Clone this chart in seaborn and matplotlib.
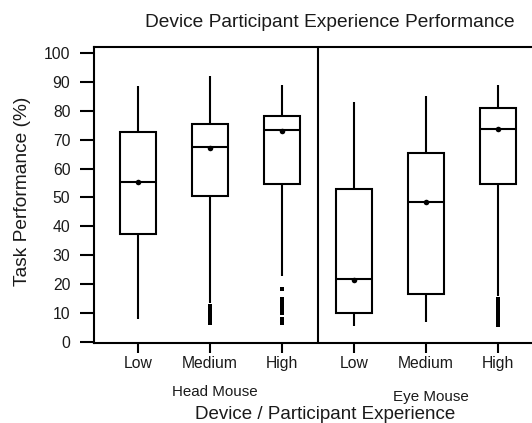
import matplotlib
matplotlib.use("Agg")
import matplotlib.pyplot as plt
import seaborn as sns
import pandas as pd

# ---- data ----
devices = ["Head Mouse", "Eye Mouse"]
experience = ["Low", "Medium", "High"]
whisker_low = [8, 13.5, 23, 5.5, 7, 16]
q1 = [37.5, 50.5, 54.5, 10, 16.5, 54.5]
median = [55.5, 67.5, 73.2, 21.8, 48.5, 73.5]
q3 = [72.5, 75.5, 78, 53, 65.5, 80.8]
whisker_high = [88.5, 92, 89, 83, 85, 89]
means = [55.5, 67.2, 73, 21.5, 48.5, 73.5]
outliers_hm_medium = [12.5, 12, 11.5, 11, 10.5, 10, 9.5, 9, 8.5, 8, 7.5, 7, 6.5]
outliers_hm_high = [18.5, 15, 14, 13, 12, 11.5, 11, 10, 8, 7, 6.5]
outliers_em_high = [15, 14.5, 14, 13, 12, 11, 10, 9, 8, 7, 6.5, 6]
title = "Device Participant Experience Performance"
xlabel = "Device / Participant Experience"
ylabel = "Task Performance (%)"
yticks = [0, 10, 20, 30, 40, 50, 60, 70, 80, 90, 100]

groups = [f"{d}|{e}" for d in devices for e in experience]

rows = []
for i, g in enumerate(groups):
    for v in (whisker_low[i], q1[i], median[i], q3[i], whisker_high[i]):
        rows.append({"group": g, "value": v})
df = pd.DataFrame(rows)

mean_df = pd.DataFrame({"group": groups, "value": means})

out_rows = []
for g, vals in ((groups[1], outliers_hm_medium), (groups[2], outliers_hm_high),
                (groups[5], outliers_em_high)):
    for v in vals:
        out_rows.append({"group": g, "value": v})
out_df = pd.DataFrame(out_rows)

# ---- style ----
sns.set_theme(style="white")
plt.rcParams["font.family"] = ["Liberation Sans", "DejaVu Sans"]
plt.rcParams["text.color"] = "#1a1a1a"

fig = plt.figure(figsize=(5.32, 4.23), dpi=100)
W, H = 532, 423
ax = fig.add_axes([94 / W, 1 - 343 / H, (534 - 94) / W, (343 - 47) / H])

lw = 1.5
sns.boxplot(data=df, x="group", y="value", order=groups, whis=(0, 100),
            width=0.5, color="white", linecolor="black", linewidth=lw,
            showcaps=False, showfliers=False, ax=ax,
            medianprops={"color": "black", "linewidth": lw})
sns.stripplot(data=out_df, x="group", y="value", order=groups, jitter=False,
              color="black", marker="s", size=2.6, linewidth=0, ax=ax)
sns.stripplot(data=mean_df, x="group", y="value", order=groups, jitter=False,
              color="black", marker="o", size=4, linewidth=0, ax=ax, zorder=5)

ax.axvline(2.5, color="black", linewidth=lw)
ax.set_xlim(-0.61, 5.5)
ax.set_ylim(-0.3, 102)
ax.set_yticks(yticks)
ax.set_yticklabels([str(t) for t in yticks], fontsize=11.3)
ax.set_xticks(range(len(groups)))
ax.set_xticklabels(experience * len(devices), fontsize=11.3)
ax.set_xlabel("")
ax.set_ylabel("")
for s in ["left", "bottom", "top"]:
    ax.spines[s].set_visible(True)
    ax.spines[s].set_color("black")
    ax.spines[s].set_linewidth(lw)
ax.spines["right"].set_visible(False)
ax.tick_params(axis="y", direction="out", length=10, width=lw, pad=7,
               colors="black", left=True)
ax.tick_params(axis="x", direction="out", length=7.2, width=lw, pad=2,
               colors="black", bottom=True)
for lab in ax.get_xticklabels() + ax.get_yticklabels():
    lab.set_color("#1a1a1a")

fig.text(330 / W, 1 - 26.7 / H, title, ha="center", va="baseline", fontsize=13.8)
fig.text(325 / W, 1 - 418.5 / H, xlabel, ha="center", va="baseline", fontsize=13.5)
fig.text(23 / W, 1 - 191 / H, ylabel, ha="center", va="center", rotation=90,
         fontsize=13.8)
fig.text(215 / W, 1 - 395.7 / H, devices[0], ha="center", va="baseline", fontsize=10.9)
fig.text(431 / W, 1 - 400.5 / H, devices[1], ha="center", va="baseline", fontsize=10.9)

fig.savefig("out.png", dpi=100)
